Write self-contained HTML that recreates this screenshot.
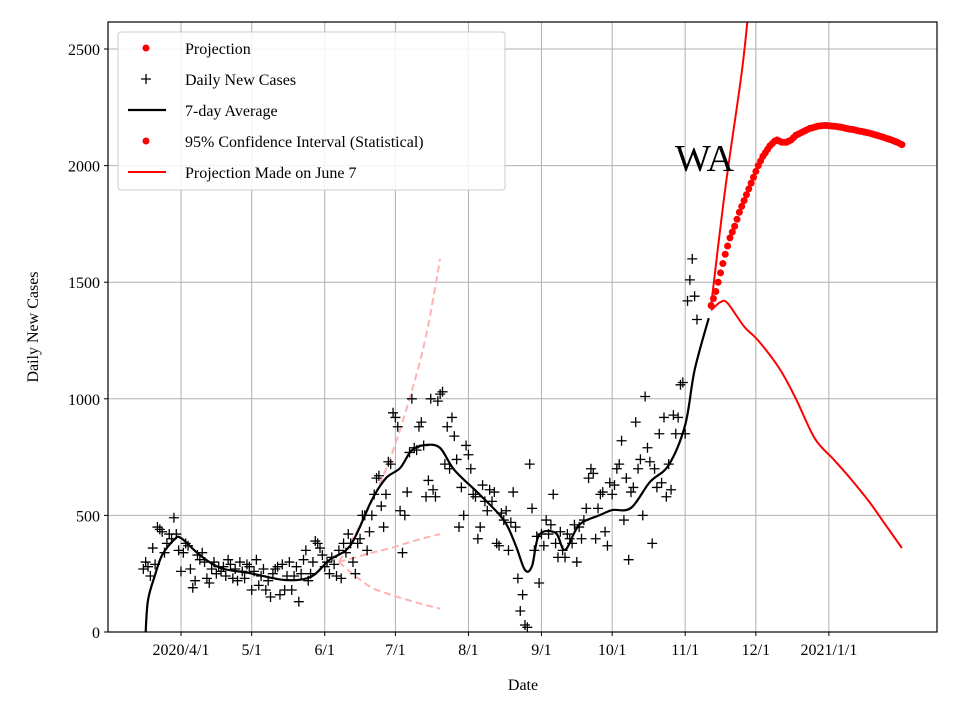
<!DOCTYPE html>
<html><head><meta charset="utf-8"><style>
body{margin:0;background:#fff}
svg{display:block;font-family:"Liberation Serif",serif}
</style></head><body>
<svg id="c" width="960" height="720"></svg>
<script>
const startDay = 75;
const dailyCases = [270,300,280,240,360,290,450,440,430,340,380,420,400,490,420,350,
260,340,380,370,270,190,220,330,310,340,300,230,210,270,300,250,280,260,280,240,310,290,230,270,220,300,260,230,290,280,
180,260,310,200,240,270,180,220,150,250,270,280,160,290,180,240,300,180,240,280,130,250,310,350,220,250,300,390,380,360,330,
280,300,250,320,290,240,350,
230,380,340,420,380,300,250,380,400,500,500,350,430,500,590,660,670,540,450,590,730,720,940,920,880,520,340,500,600,770,
1000,790,780,880,900,800,580,650,1000,610,580,990,1020,1030,720,880,700,920,840,740,450,620,500,800,760,700,590,580,400,450,630,
560,520,610,560,600,380,370,510,480,520,350,470,600,450,230,90,160,30,20,720,530,350,410,210,420,370,480,420,460,590,380,
320,430,350,320,420,400,380,460,300,450,400,480,530,660,700,680,400,530,590,600,430,370,640,590,630,700,720,820,480,660,
310,600,620,900,700,740,500,1010,790,730,380,700,620,850,640,920,580,720,610,930,850,920,1060,1070,850,1420,1510,1600,1440,1340];
const avgDays = [76,77,80,83,88,91,99,108,120,135,146,154,163,172,178,184,189,195,201,207,218,228,233,237,240,243,250,254,260,269,274,282,290,298,305,309,315];
const avgVals = [0,137,245,330,395,403,330,274,253,223,236,309,373,566,660,703,780,802,789,695,587,480,373,266,283,416,425,352,459,502,523,532,643,716,888,1123,1346];
const projStart = 316;
const projVals = [1400,1430,1460,1500,1540,1580,1620,1655,1690,1715,1740,1770,1800,1825,1850,1875,1900,1925,1950,1975,2000,2020,2040,2055,2070,2085,2095,2105,2110,2105,2100,2100,2100,2105,2110,2120,2130,2135,2140,2145,2150,2155,2160,2162,2165,2168,2170,2171,2172,2172,2171,2170,2169,2168,2166,2165,2163,2160,2158,2156,2155,2153,2150,2148,2146,2144,2142,2140,2137,2134,2131,2128,2125,2122,2118,2115,2112,2108,2104,2100,2095,2090];
const upDays = [316,322,329,332];
const upVals = [1400,1900,2400,2680];
const loDays = [316,320,323,330,336,345,352,360,368,375,383,390,397];
const loVals = [1380,1415,1410,1310,1250,1130,1000,830,740,660,560,460,360];
const junDays = [158,165,172,180,188,195,201];
const junUp = [300,420,560,750,1000,1270,1600];
const junMid = [300,320,340,360,385,405,420];
const junLo = [300,240,190,160,135,115,100];
const xTickDays = [91,121,152,182,213,244,274,305,335,366];
const xTickLabels = ["2020/4/1","5/1","6/1","7/1","8/1","9/1","10/1","11/1","12/1","2021/1/1"];
const yTicks = [0,500,1000,1500,2000,2500];

const L=108,R=937,T=22,B=632;
const X=d=>181+(d-91)*2.356;
const Y=v=>632-v*0.2332;
const NS="http://www.w3.org/2000/svg";
const svg=document.getElementById('c');
function mk(tag,attrs,parent){const e=document.createElementNS(NS,tag);for(const k in attrs)e.setAttribute(k,attrs[k]);(parent||svg).appendChild(e);return e;}
const defs=mk('defs',{});const cp=mk('clipPath',{id:'clip'},defs);mk('rect',{x:L,y:T,width:R-L,height:B-T},cp);

xTickDays.forEach((d,i)=>{
 const g=mk('line',{x1:X(d),x2:X(d),y1:T,y2:B,stroke:'#b0b0b0','stroke-width':1});
 
 
 mk('line',{x1:X(d),x2:X(d),y1:B,y2:B+4,stroke:'#000'});
 const t=mk('text',{x:X(d),y:B+23,'font-size':16,'text-anchor':'middle'});t.textContent=xTickLabels[i];
 
 
});
yTicks.forEach(v=>{
 const g=mk('line',{x1:L,x2:R,y1:Y(v),y2:Y(v),stroke:'#b0b0b0','stroke-width':1});
 
 
 mk('line',{x1:L-4,x2:L,y1:Y(v),y2:Y(v),stroke:'#000'});
 const t=mk('text',{x:L-8,y:Y(v)+6,'font-size':16,'text-anchor':'end'});t.textContent=v;
 
 
});
const plot=mk('g',{'clip-path':'url(#clip)'});


function smoothPath(pts){
 let d=`M${pts[0][0]},${pts[0][1]}`;
 for(let i=0;i<pts.length-1;i++){
  const p0=pts[Math.max(0,i-1)],p1=pts[i],p2=pts[i+1],p3=pts[Math.min(pts.length-1,i+2)];
  const c1=[p1[0]+(p2[0]-p0[0])/6,p1[1]+(p2[1]-p0[1])/6];
  const c2=[p2[0]-(p3[0]-p1[0])/6,p2[1]-(p3[1]-p1[1])/6];
  d+=` C${c1[0]},${c1[1]} ${c2[0]},${c2[1]} ${p2[0]},${p2[1]}`;
 }
 return d;
}
function line(days,vals,attrs,name){
 const p=mk('path',Object.assign({d:smoothPath(days.map((d,i)=>[X(d),Y(vals[i])])),fill:'none'},attrs),plot);
 
 
}
const dash={stroke:'#ffb3b3','stroke-width':2,'stroke-dasharray':'7,4'};
line(junDays,junUp,dash,'june-projection-upper');
line(junDays,junMid,dash,'june-projection-mid');
line(junDays,junLo,dash,'june-projection-lower');
dailyCases.forEach((v,i)=>{
 const x=X(startDay+i),y=Y(v);
 const p=mk('path',{d:`M${x-5},${y}h10M${x},${y-5}v10`,stroke:'#000','stroke-width':1.3},plot);
 
 
});
line(avgDays,avgVals,{stroke:'#000','stroke-width':2.2},'seven-day-average-line');
line(upDays,upVals,{stroke:'#f00','stroke-width':2},'projection-upper-line');
line(loDays,loVals,{stroke:'#f00','stroke-width':2},'projection-lower-line');
projVals.forEach((v,i)=>{
 const c=mk('circle',{cx:X(projStart+i),cy:Y(v),r:3.5,fill:'#f00'},plot);
 
 
});
mk('rect',{x:L,y:T,width:R-L,height:B-T,fill:'none',stroke:'#000','stroke-width':1.2});
</script>
<svg style="position:absolute;left:0;top:0" width="960" height="720">
 <text x="675" y="171" font-size="38" font-family="Liberation Serif,serif">WA</text>
 <text x="523" y="690" font-size="16" text-anchor="middle" font-family="Liberation Serif,serif">Date</text>
 <text transform="translate(38,327) rotate(-90)" font-size="16" text-anchor="middle" font-family="Liberation Serif,serif">Daily New Cases</text>
 <g font-family="Liberation Serif,serif" font-size="16">
  <rect x="118" y="32" width="387" height="158" rx="3" fill="#fff" fill-opacity="0.85" stroke="#ccc"/>
  <g><circle cx="146" cy="48" r="3.5" fill="#f00"/><text x="185" y="54">Projection</text></g>
  <g><path d="M141,79h10M146,74v10" stroke="#000" stroke-width="1.3"/><text x="185" y="85">Daily New Cases</text></g>
  <g><line x1="128" x2="166" y1="110" y2="110" stroke="#000" stroke-width="2.2"/><text x="185" y="116">7-day Average</text></g>
  <g><circle cx="146" cy="141" r="3.5" fill="#f00"/><text x="185" y="147">95% Confidence Interval (Statistical)</text></g>
  <g><line x1="128" x2="166" y1="172" y2="172" stroke="#f00" stroke-width="2"/><text x="185" y="178">Projection Made on June 7</text></g>
 </g>
</svg>
</body></html>
